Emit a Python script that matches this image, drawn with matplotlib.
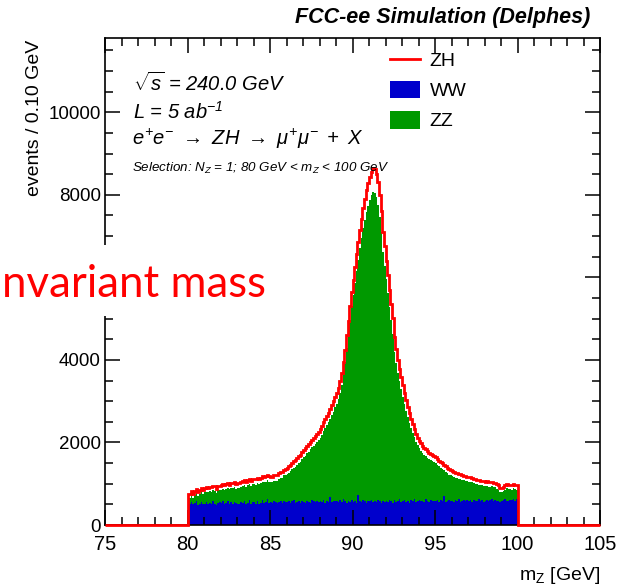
import numpy as np
import matplotlib
matplotlib.use("Agg")
import matplotlib.pyplot as plt
from matplotlib.lines import Line2D
from matplotlib.patches import Patch, Rectangle
from matplotlib.ticker import MultipleLocator, FuncFormatter

plt.rcParams['font.family'] = ['Liberation Sans', 'DejaVu Sans']
plt.rcParams['mathtext.fontset'] = 'custom'
plt.rcParams['mathtext.rm'] = 'Liberation Sans:italic'
plt.rcParams['mathtext.it'] = 'Liberation Sans:italic'
plt.rcParams['mathtext.sf'] = 'Liberation Sans'

# histogram binning (GeV)
x_lo, x_hi, bin_w = 80.0, 100.0, 0.1
x_range = (75, 105)

# events / 0.1 GeV, one row = 1 GeV (80 -> 100)
ww = [
    540, 510, 560, 500, 530, 570, 490, 520, 550, 510,
    520, 560, 500, 540, 510, 580, 520, 490, 530, 550,
    530, 570, 510, 540, 580, 500, 550, 520, 560, 540,
    520, 500, 560, 530, 580, 510, 540, 600, 520, 550,
    550, 520, 590, 510, 540, 600, 530, 560, 620, 540,
    560, 540, 580, 550, 530, 560, 570, 540, 580, 560,
    550, 590, 540, 570, 600, 530, 560, 580, 540, 570,
    560, 530, 590, 560, 540, 600, 570, 550, 580, 560,
    570, 550, 600, 540, 580, 560, 690, 550, 570, 590,
    580, 560, 600, 550, 620, 570, 540, 590, 560, 600,
    560, 590, 540, 720, 570, 550, 600, 580, 540, 590,
    570, 600, 550, 580, 560, 610, 570, 540, 590, 560,
    590, 550, 610, 570, 540, 600, 560, 580, 620, 550,
    580, 610, 560, 590, 540, 600, 570, 620, 560, 590,
    610, 570, 590, 550, 620, 580, 560, 600, 570, 590,
    580, 610, 560, 600, 570, 700, 550, 590, 600, 570,
    590, 560, 610, 580, 620, 550, 590, 600, 570, 610,
    580, 600, 560, 610, 590, 570, 620, 580, 600, 560,
    590, 610, 580, 600, 620, 570, 610, 590, 570, 560,
    580, 600, 620, 590, 570, 610, 600, 630, 580, 620,
]
zz = [
    130, 150, 170, 160, 200, 220, 210, 240, 250, 230,
    270, 250, 290, 280, 300, 270, 310, 290, 320, 300,
    330, 310, 350, 340, 320, 370, 350, 380, 360, 340,
    380, 400, 370, 410, 390, 420, 440, 400, 430, 450,
    440, 460, 430, 480, 470, 450, 500, 490, 470, 510,
    480, 500, 490, 520, 540, 550, 570, 610, 620, 660,
    690, 680, 770, 780, 790, 880, 900, 920, 990, 1030,
    1080, 1150, 1150, 1220, 1290, 1280, 1350, 1420, 1430, 1500,
    1550, 1640, 1670, 1800, 1840, 1930, 1880, 2110, 2180, 2260,
    2360, 2500, 2600, 2840, 3030, 3370, 3740, 4030, 4400, 4700,
    5020, 5280, 5610, 5710, 6140, 6400, 6600, 6820, 7040, 7150,
    7300, 7390, 7530, 7470, 7380, 7140, 6900, 6550, 6020, 5720,
    5360, 5070, 4680, 4390, 4090, 3600, 3360, 3100, 2860, 2740,
    2530, 2330, 2210, 2030, 1940, 1760, 1670, 1510, 1460, 1340,
    1250, 1230, 1160, 1150, 1050, 1050, 1040, 980, 980, 930,
    920, 850, 860, 790, 790, 630, 740, 670, 620, 630,
    590, 610, 540, 560, 500, 560, 500, 480, 490, 450,
    470, 440, 470, 400, 410, 420, 360, 390, 360, 390,
    350, 340, 350, 330, 320, 350, 300, 290, 290, 240,
    220, 230, 240, 300, 300, 270, 260, 260, 290, 240,
]
zh = [
    85, 88, 90, 90, 92, 92, 95, 95, 96, 98,
    100, 100, 101, 102, 102, 103, 104, 104, 105, 105,
    106, 106, 107, 108, 108, 109, 110, 110, 111, 112,
    112, 113, 114, 115, 116, 117, 118, 119, 120, 121,
    122, 123, 124, 125, 126, 127, 128, 129, 130, 131,
    132, 133, 134, 135, 137, 138, 140, 141, 143, 145,
    147, 149, 151, 153, 155, 157, 160, 162, 165, 168,
    171, 174, 177, 180, 183, 186, 190, 194, 198, 202,
    206, 210, 215, 220, 225, 230, 236, 242, 248, 255,
    262, 270, 278, 287, 296, 306, 316, 327, 338, 350,
    365, 385, 405, 425, 445, 465, 485, 505, 525, 545,
    555, 565, 572, 570, 562, 550, 535, 515, 495, 475,
    455, 435, 415, 395, 375, 355, 335, 318, 300, 285,
    272, 260, 248, 237, 227, 218, 210, 202, 195, 188,
    182, 177, 172, 167, 163, 159, 155, 152, 149, 146,
    143, 141, 139, 137, 135, 133, 131, 129, 127, 125,
    124, 123, 122, 121, 120, 119, 118, 117, 116, 115,
    114, 113, 112, 111, 110, 110, 109, 108, 108, 107,
    107, 106, 106, 105, 105, 104, 104, 103, 103, 102,
    102, 101, 101, 100, 100, 100, 99, 99, 98, 98,
]

c_ww = '#0000cc'
c_zz = '#009900'
c_zh = '#ff0000'

W, H = 633, 586
fig = plt.figure(figsize=(W / 100, H / 100), dpi=100)
ax = fig.add_axes([105 / W, 1 - 525 / H, 495 / W, 487 / H])

def fx(px):
    return px / W

def fy(py):
    return 1 - py / H

# full 75-105 binning, empty outside the selection window
nbins = int(round((x_range[1] - x_range[0]) / bin_w))
edges = np.round(np.linspace(x_range[0], x_range[1], nbins + 1), 2)
i0 = int(round((x_lo - x_range[0]) / bin_w))

def full(v):
    out = np.zeros(nbins)
    out[i0:i0 + len(v)] = v
    return out

h_ww = full(ww)
h_zz = full(zz)
h_zh = full(zh)

ax.stairs(h_ww + h_zz, edges, fill=True, color=c_zz, lw=0)
ax.stairs(h_ww, edges, fill=True, color=c_ww, lw=0)
ax.stairs(h_ww + h_zz + h_zh, edges, color=c_zh, lw=2, zorder=3, clip_on=False)

ax.set_xlim(*x_range)
ax.set_ylim(0, 11800)
ax.xaxis.set_major_locator(MultipleLocator(5))
ax.xaxis.set_minor_locator(MultipleLocator(1))
ax.yaxis.set_major_locator(MultipleLocator(2000))
ax.yaxis.set_minor_locator(MultipleLocator(500))
# the 6000 label sits under the slide overlay in the original
ax.yaxis.set_major_formatter(FuncFormatter(lambda v, p: '' if v == 6000 else f'{v:.0f}'))
ax.tick_params(which='both', direction='in', top=True, right=True, width=1.1)
ax.tick_params(which='major', length=11)
ax.tick_params(which='minor', length=6)
ax.tick_params(axis='x', pad=7, labelsize=14.5)
ax.tick_params(axis='y', pad=3, labelsize=13.5)
for s in ax.spines.values():
    s.set_linewidth(1.2)

handles = [Line2D([], [], color=c_zh, lw=2),
           Patch(facecolor=c_ww), Patch(facecolor=c_zz)]
ax.legend(handles, ['ZH', 'WW', 'ZZ'], loc='upper left',
          bbox_to_anchor=((390 - 105) / 495, (525 - 51) / 487),
          frameon=False, fontsize=14, handlelength=1.55, handleheight=1.0,
          labelspacing=0.55, handletextpad=0.5, borderaxespad=0, borderpad=0)

# labels
fig.text(fx(590), fy(18), 'FCC-ee Simulation (Delphes)', ha='right', va='center',
         fontsize=15.5, fontweight='bold', fontstyle='italic')
fig.text(fx(35), fy(40), 'events / 0.10 GeV', rotation=90, ha='center', va='top',
         fontsize=14)
fig.text(fx(600), fy(576), r'$\mathsf{m_{Z}}$ [GeV]', ha='right', va='center',
         fontsize=14)

fig.text(fx(133), fy(83), r'$\sqrt{s}$ = 240.0 GeV', ha='left', va='center',
         fontsize=14.5, fontstyle='italic')
fig.text(fx(133), fy(112), r'L = 5 ab$^{-1}$', ha='left', va='center',
         fontsize=14.5, fontstyle='italic')
fig.text(fx(132), fy(139),
         r'$e^{+}e^{-}\ \rightarrow\ ZH\ \rightarrow\ \mu^{+}\mu^{-}\ +\ X$',
         ha='left', va='center', fontsize=14.5)
fig.text(fx(132), fy(168), r'Selection: $N_{Z}$ = 1; 80 GeV < $m_{Z}$ < 100 GeV',
         ha='left', va='center', fontsize=9.6, fontstyle='italic')

# slide overlay
fig.add_artist(Rectangle((0, fy(316)), fx(275), (316 - 245) / H,
                         transform=fig.transFigure, facecolor='white',
                         edgecolor='none', zorder=10))
fig.text(fx(2), fy(297), 'nvariant mass', ha='left', va='baseline', color='red',
         fontsize=31.5, family=['Lato', 'DejaVu Sans'], zorder=11)

fig.savefig('out.png', dpi=100)
